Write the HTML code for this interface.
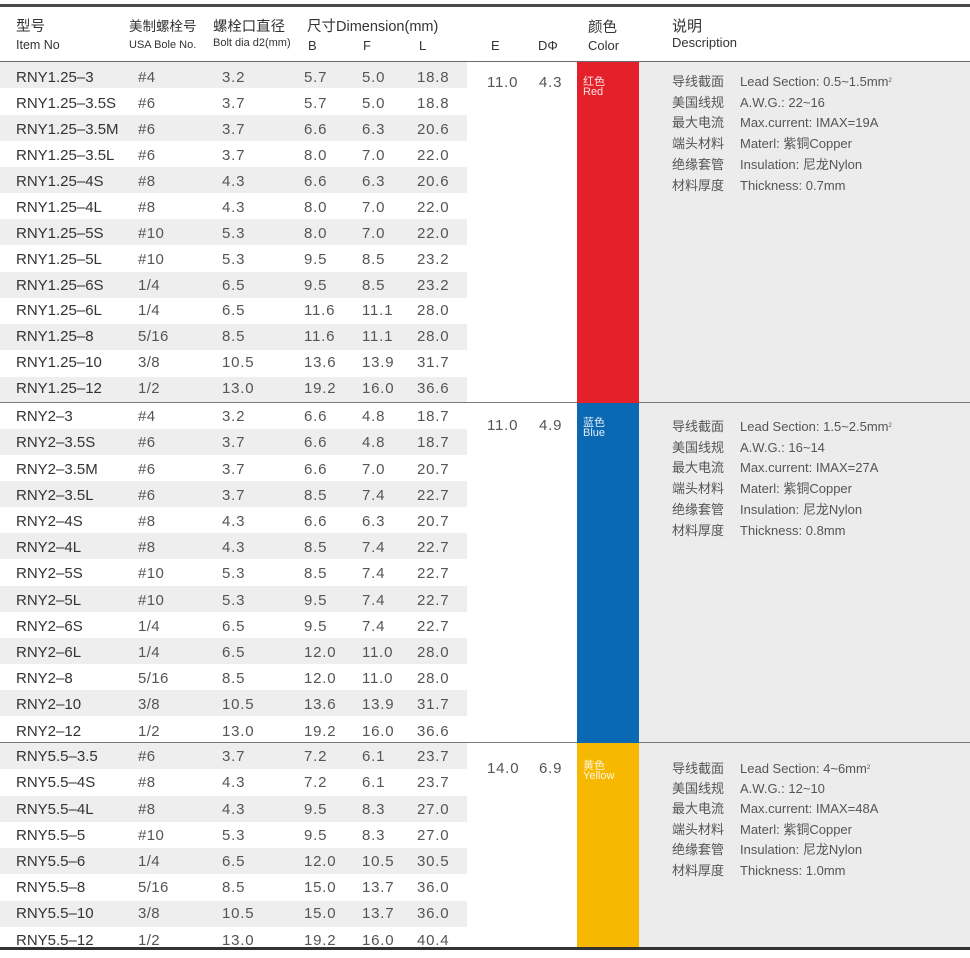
<!DOCTYPE html>
<html>
<head>
<meta charset="utf-8">
<style>
html,body{margin:0;padding:0;background:#fff;}
body{width:970px;height:958px;position:relative;overflow:hidden;font-family:"Liberation Sans","Noto Sans CJK SC",sans-serif;}
.abs{position:absolute;}
.h{position:absolute;white-space:nowrap;line-height:1;color:#333;}
.st{position:absolute;left:0;width:467px;height:26px;background:#eeeeee;}
.r{position:absolute;left:0;width:470px;height:15px;line-height:15px;font-size:15px;}
.r span{position:absolute;top:0;white-space:nowrap;color:#555;letter-spacing:0.8px;}
.r .c0{left:16px;color:#333;letter-spacing:0;}
.r .c1{left:138px;letter-spacing:0.4px;}
.r .c2{left:222px;}
.r .c3{left:304px;}
.r .c4{left:362px;}
.r .c5{left:417px;}
.ed{position:absolute;font-size:15px;line-height:15px;color:#555;letter-spacing:0.8px;white-space:nowrap;}
.lbl{position:absolute;left:583px;font-size:11px;line-height:10px;color:rgba(255,255,255,0.88);white-space:nowrap;}
.desc{position:absolute;left:672px;font-size:13px;color:#555;}
.desc div{position:relative;white-space:nowrap;}
.desc div span.en{position:absolute;left:68px;top:0;}
.desc sup{font-size:6px;vertical-align:top;position:relative;top:-1px;}
</style>
</head>
<body>
<!-- backgrounds -->
<div class="abs" style="left:639px;top:62px;width:331px;height:885px;background:#ececec;"></div>

<!-- stripes group 1 -->
<div class="st" style="top:62px"></div>
<div class="st" style="top:115px"></div>
<div class="st" style="top:167px"></div>
<div class="st" style="top:219px"></div>
<div class="st" style="top:272px"></div>
<div class="st" style="top:324px"></div>
<div class="st" style="top:377px;height:25px"></div>
<!-- stripes group 2 -->
<div class="st" style="top:429px"></div>
<div class="st" style="top:481px"></div>
<div class="st" style="top:533px"></div>
<div class="st" style="top:586px"></div>
<div class="st" style="top:638px"></div>
<div class="st" style="top:690px"></div>
<!-- stripes group 3 -->
<div class="st" style="top:743px"></div>
<div class="st" style="top:796px"></div>
<div class="st" style="top:848px"></div>
<div class="st" style="top:901px"></div>

<!-- lines -->
<div class="abs" style="left:0;top:4px;width:970px;height:3px;background:#4a4a4a;"></div>
<div class="abs" style="left:0;top:61px;width:970px;height:1px;background:#6a6a6a;"></div>
<div class="abs" style="left:0;top:402px;width:970px;height:1px;background:#7a7a7a;"></div>
<div class="abs" style="left:0;top:742px;width:970px;height:1px;background:#7a7a7a;"></div>

<!-- color blocks -->
<div class="abs" style="left:577px;top:62px;width:62px;height:341px;background:#e4202a;"></div>
<div class="abs" style="left:577px;top:403px;width:62px;height:340px;background:#0b69b4;"></div>
<div class="abs" style="left:577px;top:743px;width:62px;height:205px;background:#f6b800;"></div>

<!-- header -->
<span class="h" style="left:16px;top:20px;font-size:14.5px;">型号</span>
<span class="h" style="left:16px;top:38.6px;font-size:12.5px;">Item No</span>
<span class="h" style="left:129px;top:20px;font-size:13.5px;">美制螺栓号</span>
<span class="h" style="left:129px;top:39.9px;font-size:11px;">USA Bole No.</span>
<span class="h" style="left:213px;top:20px;font-size:14.4px;">螺栓口直径</span>
<span class="h" style="left:213px;top:38.4px;font-size:11px;">Bolt dia d2(mm)</span>
<span class="h" style="left:307px;top:20.3px;font-size:14.5px;">尺寸Dimension(mm)</span>
<span class="h" style="left:308px;top:38.5px;font-size:13px;">B</span>
<span class="h" style="left:363px;top:38.5px;font-size:13px;">F</span>
<span class="h" style="left:419px;top:38.5px;font-size:13px;">L</span>
<span class="h" style="left:491px;top:38.5px;font-size:13px;">E</span>
<span class="h" style="left:538px;top:38.5px;font-size:13px;">DΦ</span>
<span class="h" style="left:588px;top:21px;font-size:14.5px;">颜色</span>
<span class="h" style="left:588px;top:38.5px;font-size:13px;">Color</span>
<span class="h" style="left:672px;top:19px;font-size:15px;">说明</span>
<span class="h" style="left:672px;top:35.9px;font-size:13px;">Description</span>

<!-- group 1 rows -->
<div class="r" style="top:70.35px"><span class="c0">RNY1.25–3</span><span class="c1">#4</span><span class="c2">3.2</span><span class="c3">5.7</span><span class="c4">5.0</span><span class="c5">18.8</span></div>
<div class="r" style="top:96.25px"><span class="c0">RNY1.25–3.5S</span><span class="c1">#6</span><span class="c2">3.7</span><span class="c3">5.7</span><span class="c4">5.0</span><span class="c5">18.8</span></div>
<div class="r" style="top:122.15px"><span class="c0">RNY1.25–3.5M</span><span class="c1">#6</span><span class="c2">3.7</span><span class="c3">6.6</span><span class="c4">6.3</span><span class="c5">20.6</span></div>
<div class="r" style="top:148.05px"><span class="c0">RNY1.25–3.5L</span><span class="c1">#6</span><span class="c2">3.7</span><span class="c3">8.0</span><span class="c4">7.0</span><span class="c5">22.0</span></div>
<div class="r" style="top:173.95px"><span class="c0">RNY1.25–4S</span><span class="c1">#8</span><span class="c2">4.3</span><span class="c3">6.6</span><span class="c4">6.3</span><span class="c5">20.6</span></div>
<div class="r" style="top:199.85px"><span class="c0">RNY1.25–4L</span><span class="c1">#8</span><span class="c2">4.3</span><span class="c3">8.0</span><span class="c4">7.0</span><span class="c5">22.0</span></div>
<div class="r" style="top:225.75px"><span class="c0">RNY1.25–5S</span><span class="c1">#10</span><span class="c2">5.3</span><span class="c3">8.0</span><span class="c4">7.0</span><span class="c5">22.0</span></div>
<div class="r" style="top:251.65px"><span class="c0">RNY1.25–5L</span><span class="c1">#10</span><span class="c2">5.3</span><span class="c3">9.5</span><span class="c4">8.5</span><span class="c5">23.2</span></div>
<div class="r" style="top:277.55px"><span class="c0">RNY1.25–6S</span><span class="c1">1/4</span><span class="c2">6.5</span><span class="c3">9.5</span><span class="c4">8.5</span><span class="c5">23.2</span></div>
<div class="r" style="top:303.45px"><span class="c0">RNY1.25–6L</span><span class="c1">1/4</span><span class="c2">6.5</span><span class="c3">11.6</span><span class="c4">11.1</span><span class="c5">28.0</span></div>
<div class="r" style="top:329.35px"><span class="c0">RNY1.25–8</span><span class="c1">5/16</span><span class="c2">8.5</span><span class="c3">11.6</span><span class="c4">11.1</span><span class="c5">28.0</span></div>
<div class="r" style="top:355.25px"><span class="c0">RNY1.25–10</span><span class="c1">3/8</span><span class="c2">10.5</span><span class="c3">13.6</span><span class="c4">13.9</span><span class="c5">31.7</span></div>
<div class="r" style="top:381.15px"><span class="c0">RNY1.25–12</span><span class="c1">1/2</span><span class="c2">13.0</span><span class="c3">19.2</span><span class="c4">16.0</span><span class="c5">36.6</span></div>

<!-- group 2 rows -->
<div class="r" style="top:409.25px"><span class="c0">RNY2–3</span><span class="c1">#4</span><span class="c2">3.2</span><span class="c3">6.6</span><span class="c4">4.8</span><span class="c5">18.7</span></div>
<div class="r" style="top:435.45px"><span class="c0">RNY2–3.5S</span><span class="c1">#6</span><span class="c2">3.7</span><span class="c3">6.6</span><span class="c4">4.8</span><span class="c5">18.7</span></div>
<div class="r" style="top:461.65px"><span class="c0">RNY2–3.5M</span><span class="c1">#6</span><span class="c2">3.7</span><span class="c3">6.6</span><span class="c4">7.0</span><span class="c5">20.7</span></div>
<div class="r" style="top:487.85px"><span class="c0">RNY2–3.5L</span><span class="c1">#6</span><span class="c2">3.7</span><span class="c3">8.5</span><span class="c4">7.4</span><span class="c5">22.7</span></div>
<div class="r" style="top:514.05px"><span class="c0">RNY2–4S</span><span class="c1">#8</span><span class="c2">4.3</span><span class="c3">6.6</span><span class="c4">6.3</span><span class="c5">20.7</span></div>
<div class="r" style="top:540.25px"><span class="c0">RNY2–4L</span><span class="c1">#8</span><span class="c2">4.3</span><span class="c3">8.5</span><span class="c4">7.4</span><span class="c5">22.7</span></div>
<div class="r" style="top:566.45px"><span class="c0">RNY2–5S</span><span class="c1">#10</span><span class="c2">5.3</span><span class="c3">8.5</span><span class="c4">7.4</span><span class="c5">22.7</span></div>
<div class="r" style="top:592.65px"><span class="c0">RNY2–5L</span><span class="c1">#10</span><span class="c2">5.3</span><span class="c3">9.5</span><span class="c4">7.4</span><span class="c5">22.7</span></div>
<div class="r" style="top:618.85px"><span class="c0">RNY2–6S</span><span class="c1">1/4</span><span class="c2">6.5</span><span class="c3">9.5</span><span class="c4">7.4</span><span class="c5">22.7</span></div>
<div class="r" style="top:645.05px"><span class="c0">RNY2–6L</span><span class="c1">1/4</span><span class="c2">6.5</span><span class="c3">12.0</span><span class="c4">11.0</span><span class="c5">28.0</span></div>
<div class="r" style="top:671.25px"><span class="c0">RNY2–8</span><span class="c1">5/16</span><span class="c2">8.5</span><span class="c3">12.0</span><span class="c4">11.0</span><span class="c5">28.0</span></div>
<div class="r" style="top:697.45px"><span class="c0">RNY2–10</span><span class="c1">3/8</span><span class="c2">10.5</span><span class="c3">13.6</span><span class="c4">13.9</span><span class="c5">31.7</span></div>
<div class="r" style="top:723.65px"><span class="c0">RNY2–12</span><span class="c1">1/2</span><span class="c2">13.0</span><span class="c3">19.2</span><span class="c4">16.0</span><span class="c5">36.6</span></div>

<!-- group 3 rows -->
<div class="r" style="top:749.25px"><span class="c0">RNY5.5–3.5</span><span class="c1">#6</span><span class="c2">3.7</span><span class="c3">7.2</span><span class="c4">6.1</span><span class="c5">23.7</span></div>
<div class="r" style="top:775.45px"><span class="c0">RNY5.5–4S</span><span class="c1">#8</span><span class="c2">4.3</span><span class="c3">7.2</span><span class="c4">6.1</span><span class="c5">23.7</span></div>
<div class="r" style="top:801.65px"><span class="c0">RNY5.5–4L</span><span class="c1">#8</span><span class="c2">4.3</span><span class="c3">9.5</span><span class="c4">8.3</span><span class="c5">27.0</span></div>
<div class="r" style="top:827.85px"><span class="c0">RNY5.5–5</span><span class="c1">#10</span><span class="c2">5.3</span><span class="c3">9.5</span><span class="c4">8.3</span><span class="c5">27.0</span></div>
<div class="r" style="top:854.05px"><span class="c0">RNY5.5–6</span><span class="c1">1/4</span><span class="c2">6.5</span><span class="c3">12.0</span><span class="c4">10.5</span><span class="c5">30.5</span></div>
<div class="r" style="top:880.25px"><span class="c0">RNY5.5–8</span><span class="c1">5/16</span><span class="c2">8.5</span><span class="c3">15.0</span><span class="c4">13.7</span><span class="c5">36.0</span></div>
<div class="r" style="top:906.45px"><span class="c0">RNY5.5–10</span><span class="c1">3/8</span><span class="c2">10.5</span><span class="c3">15.0</span><span class="c4">13.7</span><span class="c5">36.0</span></div>
<div class="r" style="top:932.65px"><span class="c0">RNY5.5–12</span><span class="c1">1/2</span><span class="c2">13.0</span><span class="c3">19.2</span><span class="c4">16.0</span><span class="c5">40.4</span></div>

<!-- E / D values -->
<span class="ed" style="left:487px;top:74.85px;">11.0</span>
<span class="ed" style="left:539px;top:74.85px;">4.3</span>
<span class="ed" style="left:487px;top:417.55px;">11.0</span>
<span class="ed" style="left:539px;top:417.55px;">4.9</span>
<span class="ed" style="left:487px;top:760.85px;">14.0</span>
<span class="ed" style="left:539px;top:760.85px;">6.9</span>

<!-- color labels -->
<div class="lbl" style="top:77px;">红色<br>Red</div>
<div class="lbl" style="top:418px;">蓝色<br>Blue</div>
<div class="lbl" style="top:761px;">黄色<br>Yellow</div>

<!-- descriptions -->
<div class="desc" style="top:72px;line-height:20.7px;">
<div>导线截面<span class="en">Lead Section: 0.5~1.5mm<sup>2</sup></span></div>
<div>美国线规<span class="en">A.W.G.: 22~16</span></div>
<div>最大电流<span class="en">Max.current: IMAX=19A</span></div>
<div>端头材料<span class="en">Materl: 紫铜Copper</span></div>
<div>绝缘套管<span class="en">Insulation: 尼龙Nylon</span></div>
<div>材料厚度<span class="en">Thickness: 0.7mm</span></div>
</div>
<div class="desc" style="top:416.8px;line-height:20.8px;">
<div>导线截面<span class="en">Lead Section: 1.5~2.5mm<sup>2</sup></span></div>
<div>美国线规<span class="en">A.W.G.: 16~14</span></div>
<div>最大电流<span class="en">Max.current: IMAX=27A</span></div>
<div>端头材料<span class="en">Materl: 紫铜Copper</span></div>
<div>绝缘套管<span class="en">Insulation: 尼龙Nylon</span></div>
<div>材料厚度<span class="en">Thickness: 0.8mm</span></div>
</div>
<div class="desc" style="top:758.6px;line-height:20.4px;">
<div>导线截面<span class="en">Lead Section: 4~6mm<sup>2</sup></span></div>
<div>美国线规<span class="en">A.W.G.: 12~10</span></div>
<div>最大电流<span class="en">Max.current: IMAX=48A</span></div>
<div>端头材料<span class="en">Materl: 紫铜Copper</span></div>
<div>绝缘套管<span class="en">Insulation: 尼龙Nylon</span></div>
<div>材料厚度<span class="en">Thickness: 1.0mm</span></div>
</div>

<!-- bottom line -->
<div class="abs" style="left:0;top:947px;width:970px;height:3px;background:#333;"></div>
<div class="abs" style="left:0;top:950px;width:970px;height:8px;background:#fff;"></div>
</body>
</html>
